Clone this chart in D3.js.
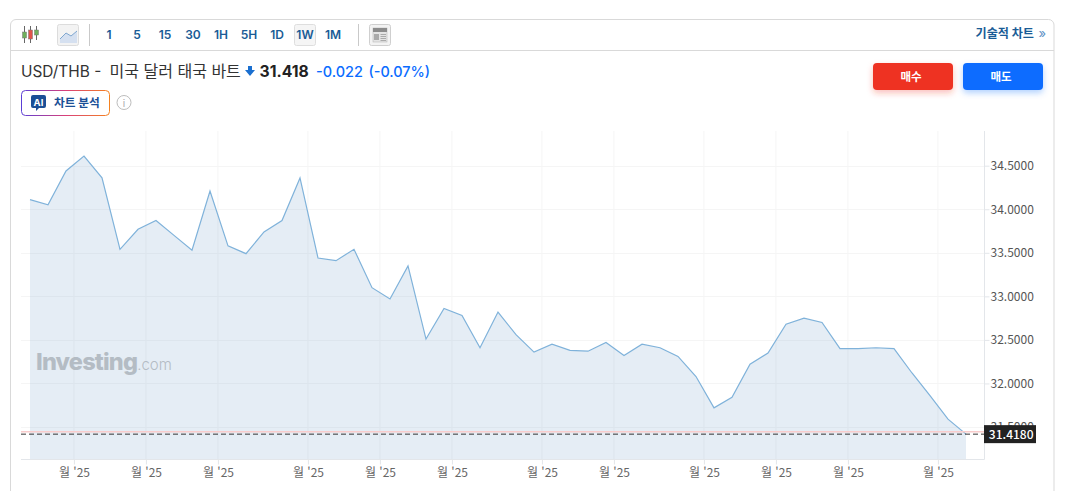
<!DOCTYPE html>
<html lang="ko"><head><meta charset="utf-8">
<script src="https://cdnjs.cloudflare.com/ajax/libs/d3/7.8.5/d3.min.js"></script>
<style>
html,body{margin:0;padding:0;background:#fff;overflow:hidden}
svg{display:block}
text{font-family:Inter,"Noto Sans CJK KR",sans-serif}
.ax text{font-family:"Noto Sans CJK KR","Noto Sans",sans-serif}
</style></head><body><svg id="c" width="1070" height="491"></svg>
<script>
const prices=[34.11,34.05,34.44,34.61,34.36,33.54,33.77,33.87,33.70,33.53,34.21,33.58,33.49,33.74,33.87,34.36,33.44,33.41,33.54,33.10,32.97,33.35,32.51,32.86,32.78,32.41,32.82,32.56,32.36,32.45,32.38,32.37,32.47,32.32,32.45,32.41,32.31,32.08,31.72,31.84,32.22,32.35,32.68,32.75,32.70,32.40,32.40,32.41,32.40,32.12,31.86,31.59,31.418];
const yTicks=[31.5,32,32.5,33,33.5,34,34.5];
const xTickWeeks=[2.44,6.44,10.44,15.44,19.44,23.44,28.44,32.44,37.44,41.44,45.44,50.44];
const xTickLabel="월 '25";
const intervals=["1","5","15","30","1H","5H","1D","1W","1M"];
const lastPrice=31.418, prevClose=31.44;

const svg=d3.select("#c");
const x=d3.scaleLinear().domain([0,prices.length-1]).range([30,966]);
const y=d3.scaleLinear().domain([31.5,34.5]).range([427,165.7]);
const plot={l:21,r:984.5,t:131,b:459.5};
const defs=svg.append("defs");
[["sr","#ee3124"],["sb","#0a6cff"]].forEach(([id,c])=>{
 const f=defs.append("filter").attr("id",id).attr("x","-20%").attr("y","-40%").attr("width","140%").attr("height","200%");
 f.append("feDropShadow").attr("dx",0).attr("dy",3).attr("stdDeviation",3).attr("flood-color",c).attr("flood-opacity",.3);
});
const g1=defs.append("linearGradient").attr("id","ai").attr("x1",0).attr("x2",1);
[[0,"#5b3fd6"],[.5,"#d9407a"],[1,"#f58220"]].forEach(([o,c])=>g1.append("stop").attr("offset",o).attr("stop-color",c));

// card
svg.append("path").attr("d","M10.5,491V25a5.5,5.5 0 0 1 5.5,-5.5H1048.5a5.5,5.5 0 0 1 5.5,5.5V491").attr("fill","none").attr("stroke","#d9d9d9");
svg.append("line").attr("x1",11).attr("x2",1054).attr("y1",50.5).attr("y2",50.5).attr("stroke","#d9d9d9");

// toolbar: candle icon
const tb=svg.append("g");
[[24.5,32,38,26,43,"#6fb05a"],[30.5,30,39,26,43,"#e2534b"],[36.5,30,35,26,40,"#6fb05a"]].forEach(([cx,a,b,l,h,c])=>{
 tb.append("line").attr("x1",cx).attr("x2",cx).attr("y1",l).attr("y2",h).attr("stroke","#666");
 tb.append("rect").attr("x",cx-2).attr("y",a).attr("width",4).attr("height",b-a).attr("fill",c).attr("stroke","#777").attr("stroke-width",.5);
});
// area icon
tb.append("rect").attr("x",57.5).attr("y",24.5).attr("width",21).attr("height",21).attr("rx",2).attr("fill","#f3f3f3").attr("stroke","#dcdcdc");
tb.append("path").attr("d","M60,39L66,33L71,36L77,31V43H60Z").attr("fill","#d5e0f0");
tb.append("path").attr("d","M60,39L66,33L71,36L77,31").attr("fill","none").attr("stroke","#7ea6cf");
tb.append("line").attr("x1",89.5).attr("x2",89.5).attr("y1",24).attr("y2",46).attr("stroke","#c9c9c9");
tb.append("line").attr("x1",358.5).attr("x2",358.5).attr("y1",24).attr("y2",46).attr("stroke","#c9c9c9");
tb.append("rect").attr("x",294.5).attr("y",24.5).attr("width",21).attr("height",21).attr("rx",2).attr("fill","#f5f5f5").attr("stroke","#dedede");
const iv=d3.scalePoint().domain(intervals).range([109,333]);
tb.selectAll("text.iv").data(intervals).join("text").attr("class","iv").attr("x",d=>iv(d)).attr("y",39)
 .attr("text-anchor","middle").attr("font-size",12).attr("font-weight",600).attr("fill","#1a5c96").text(d=>d);
// news icon
tb.append("rect").attr("x",369.5).attr("y",24.5).attr("width",21).attr("height",21).attr("rx",2).attr("fill","#f3f3f3").attr("stroke","#cfcfcf");
tb.append("rect").attr("x",373).attr("y",28).attr("width",14).attr("height",14).attr("fill","#e4e4e4").attr("stroke","#b0b0b0").attr("stroke-width",.5);
tb.append("rect").attr("x",373).attr("y",28).attr("width",14).attr("height",4).attr("fill","#8c8c8c");
tb.append("rect").attr("x",374).attr("y",34).attr("width",5).attr("height",6).attr("fill","#aaa");
[34.5,36.5,38.5,40.5].forEach(v=>tb.append("line").attr("x1",380.5).attr("x2",386).attr("y1",v).attr("y2",v).attr("stroke","#aaa"));
svg.append("text").attr("x",1034).attr("y",38).attr("text-anchor","end").attr("font-size",12.1).attr("font-weight",700).attr("fill","#1a5c96").text("기술적 차트");
svg.append("text").attr("x",1046).attr("y",38).attr("text-anchor","end").attr("font-size",13).attr("fill","#5b8fc4").text("»");

// header
const title=svg.append("text").attr("x",21).attr("y",77).attr("fill","#333");
title.append("tspan").attr("font-size",15.4).text("USD/THB - ");
title.append("tspan").attr("font-size",16).attr("dx",4).text("미국 달러 태국 바트");
svg.append("path").attr("d","M248,66h4v4h3l-5,6l-5,-6h3z").attr("fill","#1a6fd0");
svg.append("text").attr("x",259.5).attr("y",77).attr("font-size",15.7).attr("font-weight",700).attr("fill","#222").text("31.418");
svg.append("text").attr("x",316).attr("y",77).attr("font-size",14.5).attr("font-weight",500).attr("fill","#0a6cff").text("-0.022");
svg.append("text").attr("x",368.5).attr("y",77).attr("font-size",14.4).attr("font-weight",500).attr("fill","#0a6cff").text("(-0.07%)");

// AI badge
svg.append("rect").attr("x",21.5).attr("y",90.5).attr("width",88).attr("height",25).attr("rx",4).attr("fill","#fff").attr("stroke","url(#ai)");
svg.append("path").attr("d","M33,95h11a2,2 0 0 1 2,2v9a2,2 0 0 1 -2,2h-5l-3,3v-3h-3a2,2 0 0 1 -2,-2v-9a2,2 0 0 1 2,-2z").attr("fill","#1a4f96");
svg.append("text").attr("x",38.5).attr("y",105.5).attr("text-anchor","middle").attr("font-size",9.5).attr("font-weight",700).attr("fill","#fff").text("AI");
svg.append("text").attr("x",54).attr("y",106.5).attr("font-size",11.7).attr("font-weight",700).attr("fill","#1a4f96").text("차트 분석");
svg.append("circle").attr("cx",124).attr("cy",102.5).attr("r",7).attr("fill","#fff").attr("stroke","#bdbdbd");
svg.append("text").attr("x",124).attr("y",106.5).attr("text-anchor","middle").attr("font-size",10).attr("fill","#aaa").text("i");

// buttons
[[873,"#ee3124","매수","sr"],[963,"#0a6cff","매도","sb"]].forEach(([bx,c,t,f])=>{
 svg.append("rect").attr("x",bx).attr("y",63).attr("width",80).attr("height",27).attr("rx",4).attr("fill",c).attr("filter",`url(#${f})`);
 svg.append("text").attr("x",bx+38).attr("y",81).attr("text-anchor","middle").attr("font-size",11.5).attr("font-weight",700).attr("fill","#fff").text(t);
});

// grid
const grid=svg.append("g");
grid.selectAll("line.h").data(yTicks).join("line").attr("class","h").attr("x1",plot.l).attr("x2",plot.r).attr("y1",d=>Math.round(y(d))+.5).attr("y2",d=>Math.round(y(d))+.5).attr("stroke","#f5f5f5");
grid.selectAll("line.v").data(xTickWeeks).join("line").attr("class","v").attr("x1",d=>x(d)).attr("x2",d=>x(d)).attr("y1",plot.t).attr("y2",plot.b).attr("stroke","#f5f5f5");

// area + line
const area=d3.area().x((d,i)=>x(i)).y0(plot.b).y1(d=>y(d));
svg.append("path").datum(prices).attr("d",area).attr("fill","#7ba7cf").attr("fill-opacity",.2);
const line=d3.line().x((d,i)=>x(i)).y(d=>y(d));
svg.append("path").datum(prices).attr("d",line).attr("fill","none").attr("stroke","#7fb2da").attr("stroke-width",1.2);

// axes
const yAxis=svg.append("g").attr("class","ax").attr("transform",`translate(${plot.r},0)`)
 .call(d3.axisRight(y).tickValues(yTicks).tickFormat(d3.format(".4f")).tickSize(5).tickPadding(1));
yAxis.select(".domain").attr("stroke","#e3e6ea").attr("d",`M0,${plot.t}V${plot.b}`);
yAxis.selectAll(".tick line").attr("stroke","#e3e6ea");
yAxis.selectAll("text").attr("font-size",12).attr("fill","#555");
const xAxis=svg.append("g").attr("class","ax").attr("transform",`translate(0,${plot.b})`)
 .call(d3.axisBottom(x).tickValues(xTickWeeks).tickFormat(()=>xTickLabel).tickSize(5).tickPadding(4));
xAxis.select(".domain").attr("stroke","#e3e6ea").attr("d",`M${plot.l},0H${plot.r}`);
xAxis.selectAll(".tick line").attr("stroke","#e3e6ea");
xAxis.selectAll("text").attr("font-size",12).attr("fill","#666");

// reference lines
svg.append("line").attr("x1",plot.l).attr("x2",plot.r).attr("y1",y(prevClose)-.4).attr("y2",y(prevClose)-.4).attr("stroke","#f9cccc").attr("stroke-width",1.5);
svg.append("line").attr("x1",plot.l).attr("x2",plot.r).attr("y1",y(lastPrice)).attr("y2",y(lastPrice)).attr("stroke","#333").attr("stroke-dasharray","5 3");

// last price label
svg.append("rect").attr("x",984).attr("y",y(lastPrice)-9).attr("width",52).attr("height",18).attr("fill","#222");
svg.append("text").attr("x",1033.5).attr("y",y(lastPrice)+4.5).attr("text-anchor","end").attr("font-size",12).attr("font-weight",500).attr("fill","#fff").style("font-family",'"Noto Sans CJK KR",sans-serif').text(d3.format(".4f")(lastPrice));

// watermark
const wm=svg.append("text").attr("x",36).attr("y",370).attr("fill","#b4bcc4");
wm.append("tspan").attr("font-size",23.5).attr("font-weight",800).attr("letter-spacing",-.8).text("Investing");
wm.append("tspan").attr("font-size",15).attr("font-weight",300).text(".com");
</script></body></html>
